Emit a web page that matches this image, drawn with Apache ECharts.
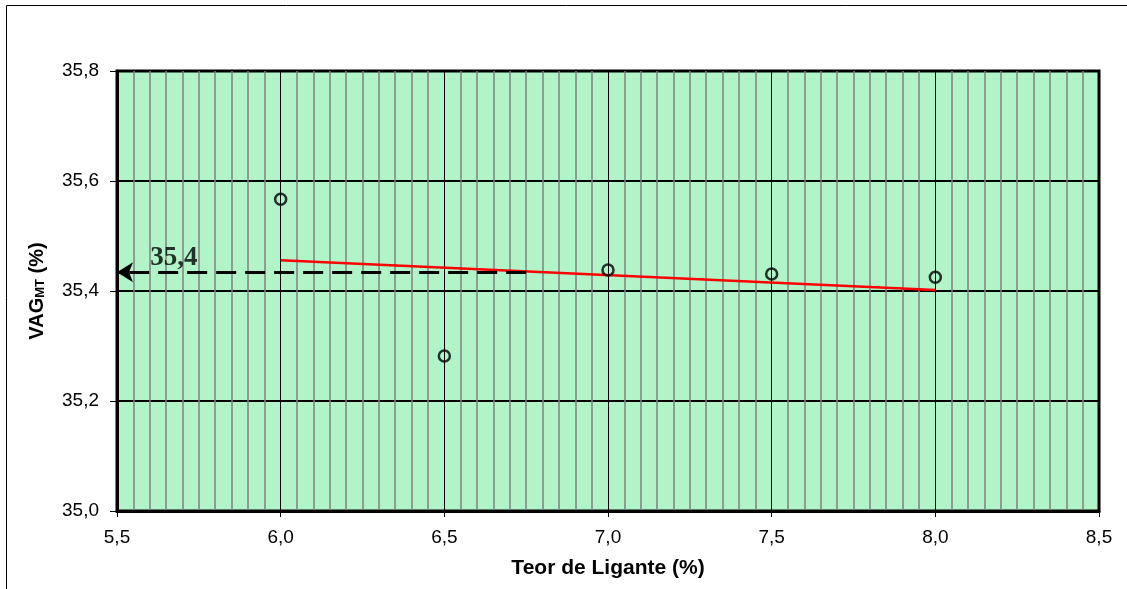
<!DOCTYPE html>
<html>
<head>
<meta charset="utf-8">
<script src="https://cdn.jsdelivr.net/npm/echarts@6/dist/echarts.min.js"></script>
<style>
  html, body { margin: 0; padding: 0; background: #fff; }
  #chart { width: 1127px; height: 589px; }
</style>
</head>
<body>
<div id="chart"></div>
<script>
// Binder content (%) and measured VAG_MT (%)
const teorLigante = [6.0, 6.5, 7.0, 7.5, 8.0];
const vagMT = [35.567, 35.282, 35.438, 35.431, 35.425];

// Linear trend line end points
const trendX = [6.0, 8.0];
const trendY = [35.456, 35.402];

// Reading at the chosen binder content
const leituraX = [6.75, 5.5];
const leituraY = 35.434;

const xTicks = { min: 5.5, max: 8.5, interval: 0.5 };
const yTicks = { min: 35.0, max: 35.8, interval: 0.2 };

const fmt = v => v.toFixed(1).replace('.', ',');
const sans = 'Liberation Sans, Arial, sans-serif';

const chart = echarts.init(document.getElementById('chart'), null, { renderer: 'canvas' });

chart.setOption({
  animation: false,
  backgroundColor: '#ffffff',
  textStyle: { fontFamily: sans },
  grid: {
    left: 117, top: 71, right: 28, bottom: 78,
    show: true,
    backgroundColor: '#b0f4c8',
    borderColor: '#000',
    borderWidth: 3
  },
  xAxis: {
    type: 'value',
    min: xTicks.min, max: xTicks.max, interval: xTicks.interval,
    name: 'Teor de Ligante (%)',
    nameLocation: 'middle',
    nameGap: 47,
    nameTextStyle: { fontFamily: sans, fontSize: 21, fontWeight: 'bold', color: '#000' },
    axisLine: { show: true, lineStyle: { color: '#000', width: 3 } },
    axisTick: { show: true, length: 6, lineStyle: { color: '#000', width: 1 } },
    axisLabel: { formatter: fmt, fontFamily: sans, fontSize: 19, color: '#000', margin: 17 },
    splitLine: { show: true, lineStyle: { color: '#000', width: 1 } },
    minorTick: { show: false, splitNumber: 10 },
    minorSplitLine: { show: true, lineStyle: { color: '#808080', width: 1.5 } }
  },
  yAxis: {
    type: 'value',
    min: yTicks.min, max: yTicks.max, interval: yTicks.interval,
    name: 'VAG{sub|MT} (%)',
    nameLocation: 'middle',
    nameGap: 70,
    nameTextStyle: {
      fontFamily: sans, fontSize: 20, fontWeight: 'bold', color: '#000',
      rich: { sub: { fontFamily: sans, fontSize: 13, fontWeight: 'bold', color: '#000', verticalAlign: 'bottom', padding: [7, 0, 0, 0] } }
    },
    axisLine: { show: true, lineStyle: { color: '#000', width: 3 } },
    axisTick: { show: true, length: 7, lineStyle: { color: '#000', width: 1 } },
    axisLabel: { formatter: fmt, fontFamily: sans, fontSize: 19, color: '#000', margin: 18 },
    splitLine: { show: true, lineStyle: { color: '#000', width: 2 } }
  },
  series: [
    {
      type: 'line',
      data: trendX.map((x, i) => [x, trendY[i]]),
      symbol: 'none',
      lineStyle: { color: '#ff0000', width: 2.5 },
      z: 3
    },
    {
      type: 'line',
      data: [],
      markLine: {
        silent: true,
        symbol: ['none', 'arrow'],
        symbolSize: [15, 16],
        label: { show: false },
        lineStyle: { color: '#000', width: 3, type: [20, 9] },
        data: [[
          { coord: [leituraX[0], leituraY] },
          { coord: [leituraX[1], leituraY] }
        ]]
      },
      z: 4
    },
    {
      type: 'scatter',
      data: [[5.674, leituraY]],
      symbolSize: 0,
      label: {
        show: true,
        position: 'top',
        distance: 1,
        formatter: () => fmt(leituraY),
        fontFamily: 'Liberation Serif, Times New Roman, serif',
        fontWeight: 'bold',
        fontSize: 27,
        color: '#000'
      },
      z: 5
    },
    {
      type: 'scatter',
      data: teorLigante.map((x, i) => [x, vagMT[i]]),
      symbol: 'circle',
      symbolSize: 11,
      itemStyle: { color: 'rgba(0,0,0,0)', borderColor: '#000', borderWidth: 2.5 },
      z: 6
    }
  ],
  graphic: [
    { type: 'line', shape: { x1: 6.5, y1: 5.5, x2: 1127, y2: 5.5 }, style: { stroke: '#000', lineWidth: 1 } },
    { type: 'line', shape: { x1: 6.5, y1: 5.5, x2: 6.5, y2: 589 }, style: { stroke: '#000', lineWidth: 1 } }
  ]
});
</script>
</body>
</html>
